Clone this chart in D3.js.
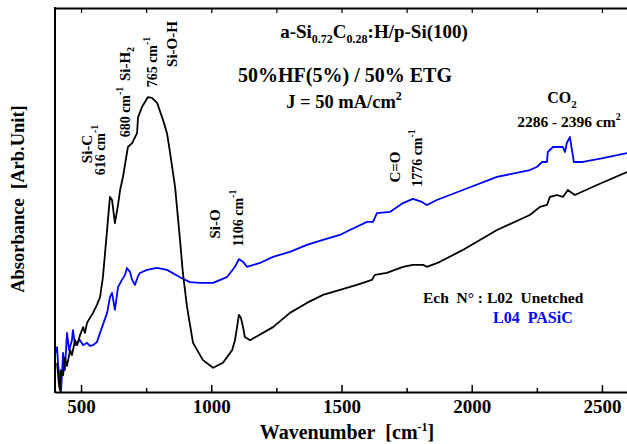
<!DOCTYPE html>
<html>
<head>
<meta charset="utf-8">
<script src="https://cdn.jsdelivr.net/npm/d3@7"></script>
<style>
  body { margin: 0; background: #fff; }
  svg { display: block; font-family: "Liberation Serif", "Times New Roman", serif; font-weight: bold; }
</style>
</head>
<body>
<div id="chart"></div>
<script>
// FTIR spectra, wavenumber (cm-1) vs absorbance (arb. units, 0-100)
const unetchedWn = [408, 415, 419, 423, 431, 438, 446, 458, 465, 477, 485, 496, 508, 515, 523, 534, 546, 561, 573, 584,
    600, 611, 619, 630, 642, 650, 661, 680, 696, 715, 719, 734, 757, 772, 792, 815, 830, 842, 861, 880,
    891, 907, 930, 968, 1007, 1045, 1080, 1091, 1099, 1106, 1114, 1122, 1129, 1149, 1237, 1302, 1367, 1429, 1494, 1559,
    1617, 1628, 1674, 1736, 1774, 1813, 1828, 1878, 1966, 2097, 2223, 2262, 2289, 2300, 2327, 2350, 2369, 2385, 2396, 2481, 2596];
const unetchedAbs = [7.6, 2.0, 0.5, 5.7, 4.4, 8.9, 6.8, 10.9, 9.6, 13.5, 12.2, 14.8, 16.9, 15.4, 18.0, 19.3, 20.6, 22.7, 24.7, 29.9,
    42.2, 50.8, 50.0, 44.0, 48.7, 52.6, 56.0, 63.8, 64.8, 67.4, 71.6, 74.2, 76.8, 76.6, 75.3, 70.8, 67.4, 62.2, 53.4, 39.6,
    31.0, 22.1, 12.8, 8.3, 6.3, 7.6, 10.9, 13.5, 16.9, 20.1, 19.3, 16.9, 14.3, 13.5, 16.9, 20.6, 23.2, 25.3, 26.6, 27.9,
    29.2, 30.5, 31.0, 32.6, 33.1, 33.1, 32.6, 33.9, 37.0, 42.2, 46.1, 48.2, 48.7, 50.8, 51.3, 50.8, 52.6, 51.8, 51.3, 53.9, 57.3];

const pasicWn = [404, 408, 412, 419, 423, 431, 438, 446, 454, 465, 469, 477, 485, 496, 508, 523, 534, 546, 561, 573,
    600, 611, 619, 630, 642, 657, 669, 676, 688, 696, 707, 719, 726, 753, 792, 830, 880, 918, 957, 1007,
    1060, 1091, 1106, 1122, 1137, 1187, 1237, 1302, 1367, 1429, 1494, 1532, 1598, 1621, 1636, 1686, 1736, 1774, 1809, 1828,
    1866, 1966, 2097, 2223, 2250, 2270, 2289, 2292, 2312, 2350, 2358, 2365, 2377, 2385, 2392, 2427, 2504, 2596];
const pasicAbs = [10.2, 11.7, 7.0, 3.1, 0.0, 10.2, 5.7, 15.4, 10.9, 13.5, 16.1, 12.2, 12.8, 13.5, 12.2, 12.8, 12.0, 12.2, 13.0, 15.4,
    20.6, 24.7, 25.8, 21.4, 27.3, 29.2, 30.5, 32.3, 31.3, 29.2, 27.9, 30.2, 31.0, 31.8, 32.3, 31.8, 29.9, 28.6, 28.4, 28.4,
    29.9, 32.6, 34.6, 33.9, 32.6, 33.6, 35.2, 36.5, 38.3, 39.6, 40.9, 42.2, 44.3, 44.3, 46.6, 46.9, 49.2, 50.3, 49.5, 48.7,
    50.0, 52.6, 56.0, 57.8, 58.6, 59.9, 59.9, 62.5, 63.8, 63.8, 62.5, 64.8, 66.4, 63.0, 59.9, 59.9, 60.9, 62.2];

const majorTicks = [500, 1000, 1500, 2000, 2500];
const minorTicks = [750, 1250, 1750, 2250];

const width = 627, height = 444;
const margin = {top: 8, right: 0, bottom: 52, left: 55};

const svg = d3.select("#chart")
    .append("svg")
    .attr("width", width)
    .attr("height", height);

const x = d3.scaleLinear()
    .domain([400, 2600])
    .range([margin.left, width - margin.right + 1]);

const y = d3.scaleLinear()
    .domain([0, 100])
    .range([height - margin.bottom, margin.top]);

svg.append("clipPath").attr("id", "clip")
  .append("rect")
    .attr("x", margin.left).attr("y", margin.top)
    .attr("width", width - margin.left).attr("height", height - margin.top - margin.bottom);

const line = d3.line()
    .x(d => x(d[0]))
    .y(d => y(d[1]));

const series = [
    {wn: pasicWn, abs: pasicAbs, color: "#0000ff"},
    {wn: unetchedWn, abs: unetchedAbs, color: "#000000"}
];

svg.append("g")
    .attr("clip-path", "url(#clip)")
  .selectAll("path")
  .data(series)
  .join("path")
    .attr("fill", "none")
    .attr("stroke", d => d.color)
    .attr("stroke-width", 1.8)
    .attr("stroke-linejoin", "round")
    .attr("d", d => line(d3.zip(d.wn, d.abs)));

// axes: ticks pointing inward, top & bottom
const yBottom = y(0);
const yTop = y(100);

svg.append("g")
    .attr("transform", `translate(0,${yBottom})`)
    .call(d3.axisBottom(x).tickValues(majorTicks).tickFormat(d3.format("d"))
        .tickSize(-7).tickSizeOuter(0).tickPadding(8))
    .call(g => g.select(".domain").attr("stroke-width", 2))
    .call(g => g.selectAll(".tick line").attr("stroke-width", 1.5))
    .call(g => g.selectAll("text").attr("font-size", 19).attr("font-family", "Liberation Serif").attr("font-weight", "bold"));

svg.append("g")
    .attr("transform", `translate(0,${yBottom})`)
    .call(d3.axisBottom(x).tickValues(minorTicks).tickSize(-4).tickFormat(""))
    .call(g => g.select(".domain").remove())
    .call(g => g.selectAll(".tick line").attr("stroke-width", 1.5));

svg.append("g")
    .attr("transform", `translate(0,${yTop})`)
    .call(d3.axisTop(x).tickValues(majorTicks.concat(minorTicks)).tickSize(-5).tickSizeOuter(0).tickFormat(""))
    .call(g => g.select(".domain").attr("stroke-width", 2))
    .call(g => g.selectAll(".tick line").attr("stroke-width", 1.2));

svg.append("line")
    .attr("x1", margin.left).attr("x2", margin.left)
    .attr("y1", yTop - 1).attr("y2", yBottom + 1)
    .attr("stroke", "#000").attr("stroke-width", 2);

// axis titles
svg.append("text")
    .attr("x", 347).attr("y", 439)
    .attr("text-anchor", "middle")
    .attr("font-size", 20)
    .html('Wavenumber&#160;&#160;[cm<tspan dy="-8" font-size="12">-1</tspan><tspan dy="8">]</tspan>');

svg.append("text")
    .attr("transform", "translate(24,199) rotate(-90)")
    .attr("text-anchor", "middle")
    .attr("font-size", 18.5)
    .html('Absorbance&#160;&#160;[Arb.Unit]');

// header text
svg.append("text")
    .attr("x", 374).attr("y", 38)
    .attr("text-anchor", "middle")
    .attr("font-size", 19)
    .html('a-Si<tspan dy="5" font-size="12">0.72</tspan><tspan dy="-5">C</tspan><tspan dy="5" font-size="12">0.28</tspan><tspan dy="-5">:H/p-Si(100)</tspan>');

svg.append("text")
    .attr("x", 345).attr("y", 82)
    .attr("text-anchor", "middle")
    .attr("font-size", 20)
    .text("50%HF(5%) / 50% ETG");

svg.append("text")
    .attr("x", 344).attr("y", 108)
    .attr("text-anchor", "middle")
    .attr("font-size", 18.5)
    .html('J = 50 mA/cm<tspan dy="-8" font-size="12">2</tspan>');

svg.append("text")
    .attr("x", 562).attr("y", 103)
    .attr("text-anchor", "middle")
    .attr("font-size", 16)
    .html('CO<tspan dy="5" font-size="11">2</tspan>');

svg.append("text")
    .attr("x", 569).attr("y", 127)
    .attr("text-anchor", "middle")
    .attr("font-size", 15.5)
    .html('2286 - 2396 cm<tspan dy="-7" font-size="10">2</tspan>');

// vertical peak labels: [text, superscript, cx, cy, size]
const peakLabels = [
    ["Si-C", "", 92, 149, 15],
    ["616 cm", "-1", 105, 150, 14],
    ["Si-H", "2", 130, 64, 15],
    ["680 cm", "-1", 130, 112, 14],
    ["765 cm", "-1", 157, 62, 14],
    ["Si-O-H", "", 177, 44, 15],
    ["Si-O", "", 220, 224, 15],
    ["1106 cm", "-1", 243, 218, 14],
    ["C=O", "", 400, 167, 15],
    ["1776 cm", "-1", 422, 158, 14]
];

svg.append("g")
  .selectAll("text")
  .data(peakLabels)
  .join("text")
    .attr("transform", d => `translate(${d[2]},${d[3]}) rotate(-90)`)
    .attr("text-anchor", "middle")
    .attr("font-size", d => d[4])
    .html(d => d[1] === "" ? d[0]
        : d[1] === "2" ? `${d[0]}<tspan dy="4" font-size="10">2</tspan>`
        : `${d[0]}<tspan dy="-7" font-size="10">${d[1]}</tspan>`);

// legend
svg.append("text")
    .attr("x", 423).attr("y", 303)
    .attr("font-size", 15.5)
    .attr("fill", "#000")
    .html("Ech&#160;&#160;N° : L02&#160;&#160;Unetched");

svg.append("text")
    .attr("x", 493).attr("y", 323)
    .attr("font-size", 16)
    .attr("fill", "#0000ff")
    .html("L04&#160;&#160;PASiC");
</script>
</body>
</html>
